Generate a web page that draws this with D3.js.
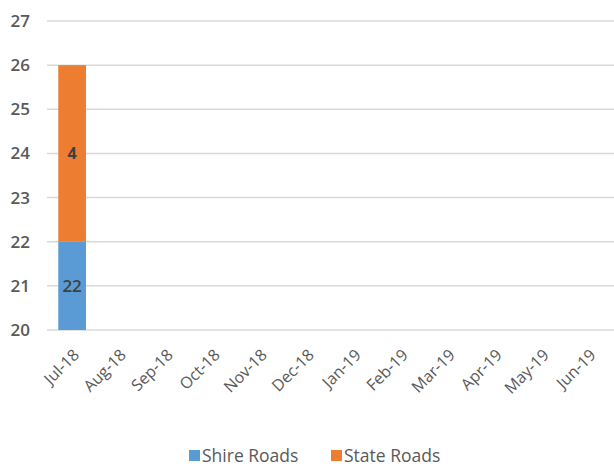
<!DOCTYPE html>
<html>
<head>
<meta charset="utf-8">
<script src="https://cdn.jsdelivr.net/npm/d3@7"></script>
<style>
  body { margin: 0; background: #fff; }
  text { font-family: "Open Sans", "Noto Sans", sans-serif; fill: #595959; }
</style>
</head>
<body>
<script>
var months = ["Jul-18", "Aug-18", "Sep-18", "Oct-18", "Nov-18", "Dec-18",
  "Jan-19", "Feb-19", "Mar-19", "Apr-19", "May-19", "Jun-19"];
var shireRoads = [22, null, null, null, null, null, null, null, null, null, null, null];
var stateRoads = [4, null, null, null, null, null, null, null, null, null, null, null];
var yTicks = [20, 21, 22, 23, 24, 25, 26, 27];
var seriesNames = ["Shire Roads", "State Roads"];
var colors = ["#5B9BD5", "#ED7D31"];

var width = 614, height = 466;
var margin = {top: 21, right: 0, bottom: 136, left: 47};

var svg = d3.select('body').append('svg')
  .attr('width', width)
  .attr('height', height);

var x = d3.scaleBand()
  .domain(months)
  .range([margin.left, width - margin.right])
  .paddingInner(0.41)
  .paddingOuter(0.24);

var y = d3.scaleLinear()
  .domain([20, 27])
  .range([height - margin.bottom, margin.top]);

// gridlines
svg.append('g')
  .selectAll('line')
  .data(yTicks)
  .enter().append('line')
  .attr('x1', margin.left)
  .attr('x2', width - margin.right)
  .attr('y1', function(d) { return y(d); })
  .attr('y2', function(d) { return y(d); })
  .attr('stroke', '#d9d9d9')
  .attr('stroke-width', 1.5);

// y labels
svg.append('g')
  .selectAll('text')
  .data(yTicks)
  .enter().append('text')
  .attr('x', 30)
  .attr('y', function(d) { return y(d); })
  .attr('dy', '0.35em')
  .attr('text-anchor', 'end')
  .style('font-size', '17px')
  .style('font-weight', '600')
  .text(function(d) { return d; });

// stacked bars
var stackData = months.map(function(m, i) {
  return {month: m, shire: shireRoads[i], state: stateRoads[i]};
}).filter(function(d) { return d.shire != null; });

stackData.forEach(function(d) {
  var base = 20;
  var top1 = d.shire;
  var top2 = d.shire + d.state;
  var bx = x(d.month), bw = x.bandwidth();

  svg.append('rect')
    .attr('x', bx).attr('width', bw)
    .attr('y', y(top1)).attr('height', y(base) - y(top1))
    .attr('fill', colors[0]);
  svg.append('rect')
    .attr('x', bx).attr('width', bw)
    .attr('y', y(top2)).attr('height', y(top1) - y(top2))
    .attr('fill', colors[1]);

  svg.append('text')
    .attr('x', bx + bw / 2)
    .attr('y', (y(base) + y(top1)) / 2)
    .attr('dy', '0.35em')
    .attr('text-anchor', 'middle')
    .style('font-size', '17px')
    .style('font-weight', '600')
    .style('fill', '#404040')
    .text(d.shire);
  svg.append('text')
    .attr('x', bx + bw / 2)
    .attr('y', (y(top1) + y(top2)) / 2)
    .attr('dy', '0.35em')
    .attr('text-anchor', 'middle')
    .style('font-size', '16px')
    .style('font-weight', 'bold')
    .style('fill', '#404040')
    .text(d.state);
});

// x labels
svg.append('g')
  .selectAll('text')
  .data(months)
  .enter().append('text')
  .attr('text-anchor', 'end')
  .attr('transform', function(d) {
    return 'translate(' + (x(d) + x.bandwidth() / 2 + 4) + ',' + (y(20) + 22) + ') rotate(-45)';
  })
  .attr('dy', '0.35em')
  .style('font-size', '16px')
  .text(function(d) { return d; });

// legend
var legend = svg.append('g');
var lx = [189, 331];
seriesNames.forEach(function(name, i) {
  legend.append('rect')
    .attr('x', lx[i]).attr('y', 450)
    .attr('width', 11).attr('height', 11)
    .attr('fill', colors[i]);
  legend.append('text')
    .attr('x', lx[i] + 13).attr('y', 456)
    .attr('dy', '0.35em')
    .style('font-size', '17.5px')
    .text(name);
});
</script>
</body>
</html>
